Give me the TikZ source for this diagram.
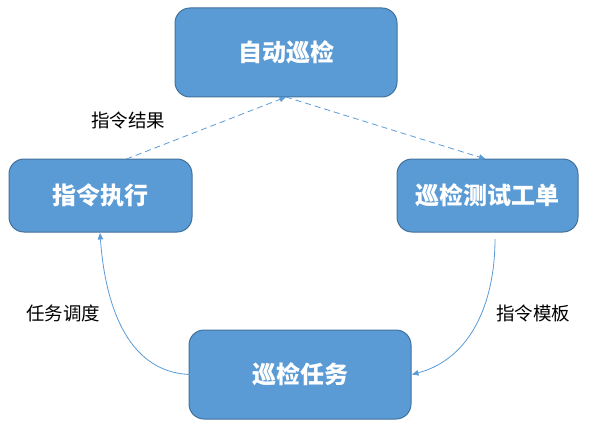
\documentclass[tikz,border=0pt]{standalone}
\usepackage{fontspec}
\newfontfamily\cjk{Noto Sans CJK SC}
\usetikzlibrary{arrows.meta}
\definecolor{boxfill}{HTML}{5B9BD5}
\definecolor{boxline}{HTML}{41719C}
\definecolor{linkcol}{HTML}{5B9BD5}
\begin{document}
\begin{tikzpicture}[x=1pt,y=1pt]

        \useasboundingbox (0,0) rectangle (589,432);

        \begin{scope}[every node/.style={rectangle, rounded corners=15pt, draw=boxline, line width=1pt,
            fill=boxfill, text=white, inner sep=0pt, outer sep=0pt, font=\cjk\bfseries\fontsize{24}{28}\selectfont}]
          \node[minimum width=222pt, minimum height=89pt] (1) at (286,379.5) {自动巡检};
          \node[minimum width=183pt, minimum height=73pt] (2) at (100.5,236.5) {指令执行};
          \node[minimum width=181pt, minimum height=73pt] (3) at (487.5,236.5) {巡检测试工单};
          \node[minimum width=222pt, minimum height=89pt] (4) at (300,57.5) {巡检任务};
        \end{scope}

        \begin{scope}[every node/.style={font=\cjk\fontsize{18.5}{22}\selectfont}]
          \node (l1) at (128,312) {指令结果};
          \node (l2) at (533,119) {指令模板};
          \node (l3) at (63,119)  {任务调度};
        \end{scope}

        \begin{scope}[every path/.style={draw=linkcol, line width=0.8pt, -{Triangle[length=6.5pt,width=5.5pt]}}]
          \path[dash pattern=on 6pt off 4pt] ([xshift=26pt]2.north) -- (1.south);
          \path[dash pattern=on 6pt off 4pt] (1.south) -- ([xshift=-2pt]3.north);
          \path ([xshift=7.5pt,yshift=-7pt]3.south) to[out=-90,in=15] ([xshift=1pt]4.east);
          \path ([xshift=1pt]4.west) to[out=178,in=-86] ([xshift=-0.5pt,yshift=-1pt]2.south);
        \end{scope}

      \end{tikzpicture}
\end{document}
